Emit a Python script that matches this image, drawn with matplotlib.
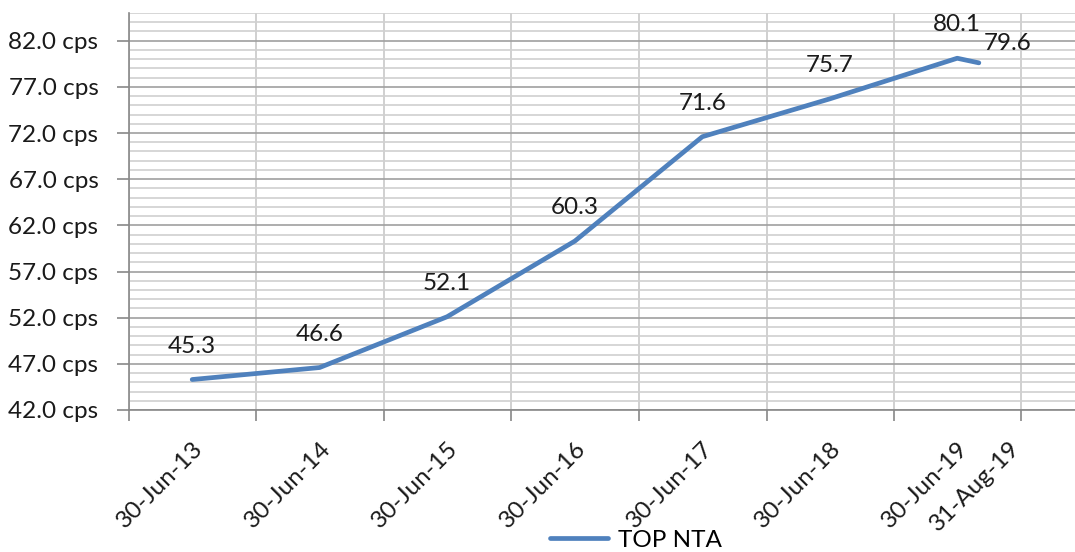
import matplotlib
matplotlib.use("Agg")
import matplotlib.pyplot as plt
import matplotlib.dates as mdates
import matplotlib.transforms as mtransforms
import pandas as pd

dates = ["2013-06-30", "2014-06-30", "2015-06-30", "2016-06-30",
         "2017-06-30", "2018-06-30", "2019-06-30", "2019-08-31"]
tick_labels = ["30-Jun-13", "30-Jun-14", "30-Jun-15", "30-Jun-16",
               "30-Jun-17", "30-Jun-18", "30-Jun-19", "31-Aug-19"]
nta = [45.3, 46.6, 52.1, 60.3, 71.6, 75.7, 80.1, 79.6]
series_name = "TOP NTA"

plt.rcParams["font.family"] = ["Lato", "DejaVu Sans"]
FS = 17.5

x = mdates.date2num(pd.to_datetime(dates))
half_years = mdates.date2num(pd.date_range("2012-12-31", "2020-06-30", freq="6ME"))
year_ends = mdates.date2num(pd.date_range("2012-12-31", "2019-12-31", freq="YE"))

fig = plt.figure(figsize=(10.75, 5.52), dpi=100)
ax = fig.add_axes([129 / 1075, 1 - 410 / 552, 956 / 1075, 397 / 552])

line, = ax.plot(x, nta, color="#4F81BD", lw=3.4, solid_capstyle="round",
                solid_joinstyle="round", zorder=3, label=series_name)

# data labels
for i, (xi, v) in enumerate(zip(x, nta)):
    off = (21, 14) if i == len(nta) - 1 else (0, 24)
    ax.annotate(f"{v:.1f}", (xi, v), xytext=off, textcoords="offset points",
                ha="center", va="center", fontsize=FS, color="#1a1a1a")

ax.set_xlim(mdates.date2num(pd.Timestamp("2012-12-31")),
            mdates.date2num(pd.Timestamp("2020-06-30")))
ax.set_ylim(42, 85)

# y axis
ax.set_yticks(range(42, 83, 5))
ax.set_yticklabels([f"{v:.1f} cps" for v in range(42, 83, 5)])
ax.set_yticks(range(42, 86), minor=True)
ax.tick_params(axis="y", which="major", length=9, width=1.2, color="#888888",
               pad=13, labelsize=FS, labelcolor="#1a1a1a")
ax.tick_params(axis="y", which="minor", length=0)

# x axis: labels at data points, grid every half year
ax.set_xticks(x)
ax.set_xticklabels(tick_labels, rotation=45, ha="right", va="top",
                   rotation_mode="anchor")
ax.set_xticks(half_years, minor=True)
ax.tick_params(axis="x", which="major", length=0, pad=20, labelsize=FS,
               labelcolor="#1a1a1a")
ax.tick_params(axis="x", which="minor", length=0)

# last label is nudged right so it does not sit on 30-Jun-19
last = ax.get_xticklabels()[-1]
last.set_transform(last.get_transform() +
                   mtransforms.ScaledTranslation(0.30, 0, fig.dpi_scale_trans))

ax.grid(False)
ax.yaxis.grid(True, which="minor", color="#d0d0d0", lw=1.2, zorder=0)
ax.yaxis.grid(True, which="major", color="#a0a0a0", lw=1.2, zorder=1)
ax.xaxis.grid(True, which="minor", color="#c8c8c8", lw=1.2, zorder=0)
ax.set_axisbelow(True)

# yearly tick marks under the axis
sec = ax.secondary_xaxis("bottom")
sec.set_xticks(year_ends)
sec.set_xticklabels([""] * len(year_ends))
sec.tick_params(length=8, width=1.2, color="#888888")
sec.spines["bottom"].set_visible(False)

for s in ["top", "right"]:
    ax.spines[s].set_visible(False)
for s in ["left", "bottom"]:
    ax.spines[s].set_color("#888888")
    ax.spines[s].set_linewidth(1.2)

fig.legend(handles=[line], loc="center", bbox_to_anchor=(636 / 1075, 1 - 540 / 552),
           frameon=False, fontsize=FS, handlelength=2.4, handletextpad=0.4)

fig.savefig("out.png", dpi=100)
